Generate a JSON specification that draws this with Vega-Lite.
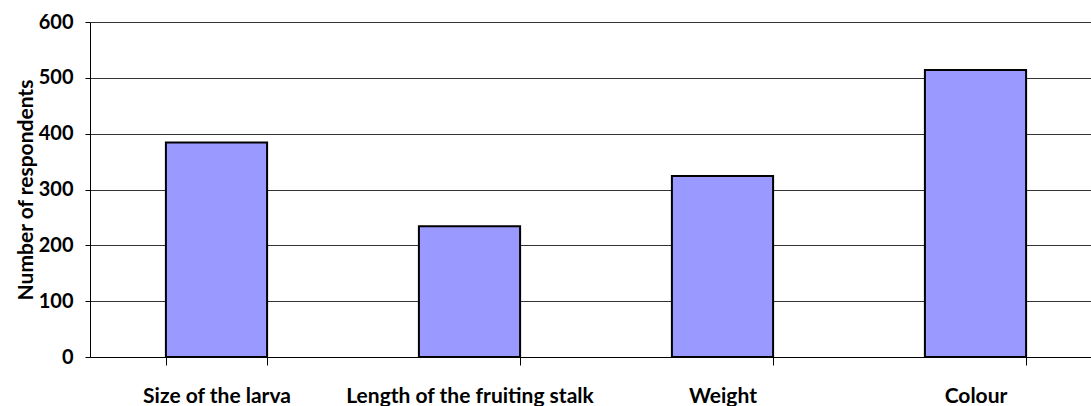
{
  "$schema": "https://vega.github.io/schema/vega-lite/v6.json",
  "autosize": "none",
  "width": 1012,
  "height": 335,
  "padding": {"left": 90, "top": 22, "right": 0, "bottom": 49},
  "background": "white",
  "config": {"view": {"stroke": null}, "font": "Lato"},
  "data": {"values": [
    {"trait": "Size of the larva", "respondents": 384},
    {"trait": "Length of the fruiting stalk", "respondents": 234},
    {"trait": "Weight", "respondents": 324},
    {"trait": "Colour", "respondents": 514}
  ]},
  "mark": {"type": "bar", "fill": "#9999FF", "stroke": "#000000", "strokeWidth": 2},
  "encoding": {
    "x": {
      "field": "trait", "type": "nominal", "sort": null,
      "scale": {"paddingInner": 0.6, "paddingOuter": 0.3},
      "axis": {
        "title": null, "labelAngle": 0, "labelFont": "Lato", "labelFontSize": 21, "labelFontWeight": "bold",
        "labelColor": "#000000", "tickBand": "extent", "tickSize": 8, "tickColor": "#000000",
        "domainColor": "#000000", "labelPadding": 20, "labelBaseline": "top", "labelLimit": 0
      }
    },
    "y": {
      "field": "respondents", "type": "quantitative",
      "scale": {"domain": [0, 600]},
      "axis": {
        "title": "Number of respondents", "values": [0, 100, 200, 300, 400, 500, 600],
        "titleFont": "Lato", "titleFontSize": 21, "titleFontWeight": "bold", "titleColor": "#000000",
        "titlePadding": 2,
        "labelFont": "Lato", "labelFontSize": 20, "labelFontWeight": "bold", "labelColor": "#000000",
        "labelPadding": 12, "tickSize": 5, "tickColor": "#000000", "domainColor": "#000000",
        "grid": true, "gridColor": "#000000", "gridWidth": 1, "gridOpacity": 0.8
      }
    }
  }
}
